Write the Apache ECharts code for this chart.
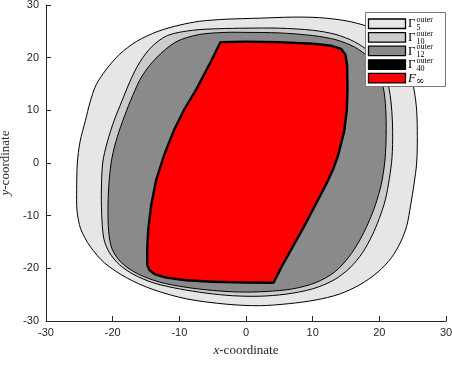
<!DOCTYPE html>
<html>
<head>
<meta charset="utf-8">
<script src="https://cdn.jsdelivr.net/npm/echarts@6/dist/echarts.min.js"></script>
<style>
html,body{margin:0;padding:0;background:#fff;}
#chart{width:452px;height:365px;}
</style>
</head>
<body>
<div id="chart"></div>
<script>
// ---- data ----
var xTicks = [-30, -20, -10, 0, 10, 20, 30];
var yTicks = [-30, -20, -10, 0, 10, 20, 30];

var gamma5 = [
  [-7,26.9],[-3,27.3],[2,27.5],[7,27.7],[11,27.6],[15,27],[18.5,25.8],[21.3,23.8],[23.3,21],[24.5,17.8],
  [25.2,14],[25.6,10],[25.7,5],[25.6,0],[25.2,-4],[24.7,-8],[24.1,-12],[23.2,-15],[21.8,-18],[19.8,-20.7],
  [17.1,-23.1],[14,-24.9],[10.5,-26],[6.5,-26.7],[2,-27.1],[-3,-26.8],[-8.9,-25.8],[-14,-24],[-17.9,-21.8],
  [-21.2,-19],[-23.4,-15.8],[-24.8,-12.5],[-25.35,-9],[-25.4,-5],[-25.3,0],[-24.9,4],[-24.1,8],[-23.4,11.5],
  [-22.5,14.8],[-21,17.7],[-19,20.6],[-16.4,23.1],[-13.2,25],[-9.9,26.2]
];
var gamma10 = [
  [-8,25.2],[-4,25.5],[0,25.6],[5,25.6],[10,25.2],[13.5,24.4],[16.3,23],[18.6,21],[20.3,18.3],[21.3,15],
  [21.8,11],[22,6],[21.9,1],[21.5,-3],[20.9,-7],[20,-10.5],[18.9,-13.8],[17.5,-17],[15.6,-19.9],[13.2,-22.2],
  [10,-23.9],[6,-24.9],[2,-25.3],[-2,-25.2],[-6,-24.7],[-10,-23.9],[-13.8,-22.8],[-16.8,-21.2],[-19,-19.3],
  [-20.5,-17],[-21.3,-14.5],[-21.6,-11],[-21.7,-6],[-21.5,0],[-20.8,4],[-19.8,8],[-18.6,11.8],[-17.4,15.5],
  [-16,19],[-14.2,22],[-11.8,24.2]
];
var gamma12 = [
  [-7,24.4],[-3,24.8],[0,24.8],[5,24.7],[10,24.2],[13.5,23.4],[16.3,22],[18.5,19.9],[19.9,17],[20.7,13.6],
  [21,9],[21,4],[20.8,0],[20.3,-4],[19.4,-8],[18.3,-11.5],[17,-14.8],[15.4,-17.9],[13.3,-20.7],[10.5,-22.7],
  [7,-23.9],[3,-24.4],[-1,-24.5],[-5,-24.2],[-9,-23.6],[-13,-22.6],[-16.3,-21],[-18.7,-18.9],[-20.1,-16.3],
  [-20.6,-13],[-20.7,-8],[-20.5,-3],[-20.1,1],[-19.3,5],[-18.2,9],[-17,12.8],[-15.6,16.5],[-13.5,19.9],
  [-10.5,23]
];
var gamma40 = [
  [-3.75,22.8],[0,22.9],[5,22.8],[10,22.5],[12.8,22.1],[14.2,21.5],[14.8,20.5],[15.05,18.5],[15.1,14],
  [15,10],[14.6,6],[14.2,4],[13.7,1.5],[13,-1],[12.1,-3.5],[11,-6.2],[9.8,-9.1],[8.55,-12.1],[6.6,-16.5],
  [5.2,-19.7],[4.05,-22.6],
  [0,-22.55],[-5,-22.4],[-9,-22.1],[-12,-21.6],[-13.6,-21],[-14.4,-20.2],[-14.7,-19.3],[-14.7,-16.5],
  [-14.55,-12.7],[-14.1,-8],[-13.35,-3.2],[-12.15,1.5],[-10.65,6.3],[-9.15,10.1],[-7.35,13.9],[-5.4,18.6]
];
var fInf = [
  [-3.75,22.8],[0,22.9],[5,22.8],[10,22.5],[12.8,22.1],[14.2,21.5],[14.8,20.5],[15.05,18.5],[15.1,14],
  [15,10],[14.6,6],[14.2,4],[13.7,1.5],[13,-1],[12.1,-3.5],[11,-6.2],[9.8,-9.1],[8.55,-12.1],[6.6,-16.5],
  [5.2,-19.7],[4.05,-22.6],
  [0,-22.55],[-5,-22.4],[-9,-22.1],[-12,-21.6],[-13.6,-21],[-14.4,-20.2],[-14.7,-19.3],[-14.7,-16.5],
  [-14.55,-12.7],[-14.1,-8],[-13.35,-3.2],[-12.15,1.5],[-10.65,6.3],[-9.15,10.1],[-7.35,13.9],[-5.4,18.6]
];

var seriesNames = ['Γ5outer','Γ10outer','Γ12outer','Γ40outer','F∞'];
var seriesColors = ['#e6e6e6','#cccccc','#8a8a8a','#000000','#ff0000'];
var legendSubs = ['5','10','12','40'];

// ---- chart ----
function polySeries(name, pts, fill, lw, smooth) {
  return {
    type: 'custom',
    name: name,
    coordinateSystem: 'cartesian2d',
    encode: {x: 0, y: 1},
    data: pts,
    clip: true,
    silent: true,
    renderItem: function (params, api) {
      if (params.dataIndex !== 0) return null;
      var points = pts.map(function (p) { return api.coord(p); });
      return {
        type: 'polygon',
        shape: {points: points, smooth: smooth},
        style: {fill: fill, stroke: '#000', lineWidth: lw, lineJoin: 'round'}
      };
    }
  };
}

var axisCommon = {
  min: -30, max: 30, interval: 10,
  axisLine: {show: true, onZero: false, lineStyle: {color: '#262626', width: 1}},
  axisTick: {show: true, inside: true, length: 5, lineStyle: {color: '#262626'}},
  axisLabel: {color: '#262626', fontFamily: 'Liberation Sans, Arial, sans-serif', fontSize: 11},
  splitLine: {show: false}
};

var chart = echarts.init(document.getElementById('chart'), null, {renderer: 'canvas'});

var legendX = 365, legendY = 12, rowH = 13.6;
var graphics = [{
  type: 'rect', left: legendX, top: legendY, z: 100,
  shape: {x: 0, y: 0, width: 80, height: 74},
  style: {fill: '#fff', stroke: '#7a7a7a', lineWidth: 1}
}];
for (var i = 0; i < 5; i++) {
  var ry = legendY + 7 + i * rowH;
  graphics.push({
    type: 'rect', z: 101,
    shape: {x: legendX + 3.5, y: ry, width: 37, height: 9.5},
    style: {fill: seriesColors[i], stroke: '#000', lineWidth: 1.3}
  });
  if (i < 4) {
    graphics.push({type: 'text', z: 102, x: legendX + 43, y: ry + 5,
      style: {text: 'Γ', font: '13px "Liberation Serif", serif', fill: '#000', verticalAlign: 'middle', align: 'left'}});
    graphics.push({type: 'text', z: 102, x: legendX + 51.5, y: ry + 1.2,
      style: {text: 'outer', font: '8px "Liberation Serif", serif', fill: '#000', verticalAlign: 'middle', align: 'left'}});
    graphics.push({type: 'text', z: 102, x: legendX + 51.5, y: ry + 9,
      style: {text: legendSubs[i], font: '8px "Liberation Serif", serif', fill: '#000', verticalAlign: 'middle', align: 'left'}});
  } else {
    graphics.push({type: 'text', z: 102, x: legendX + 43, y: ry + 5,
      style: {text: 'F', font: 'italic 13px "Liberation Serif", serif', fill: '#000', verticalAlign: 'middle', align: 'left'}});
    graphics.push({type: 'text', z: 102, x: legendX + 51, y: ry + 8,
      style: {text: '∞', font: '10px "DejaVu Serif", serif', fill: '#000', verticalAlign: 'middle', align: 'left'}});
  }
}

chart.setOption({
  animation: false,
  backgroundColor: '#fff',
  grid: {left: 46, right: 6, top: 5, bottom: 44, containLabel: false, outerBoundsMode: 'none'},
  xAxis: Object.assign({}, axisCommon, {
    type: 'value', position: 'bottom',
    axisLabel: Object.assign({}, axisCommon.axisLabel, {margin: 6}),
    name: '{i|x}-coordinate', nameLocation: 'middle', nameGap: 23,
    nameTextStyle: {fontFamily: '"Liberation Serif", serif', fontSize: 13, color: '#262626',
      rich: {i: {fontStyle: 'italic', fontFamily: '"Liberation Serif", serif', fontSize: 13, color: '#262626'}}}
  }),
  yAxis: Object.assign({}, axisCommon, {
    type: 'value', position: 'left',
    axisLabel: Object.assign({}, axisCommon.axisLabel, {margin: 7}),
    name: '{i|y}-coordinate', nameLocation: 'middle', nameGap: 29,
    nameTextStyle: {fontFamily: '"Liberation Serif", serif', fontSize: 13, color: '#262626',
      rich: {i: {fontStyle: 'italic', fontFamily: '"Liberation Serif", serif', fontSize: 13, color: '#262626'}}}
  }),
  series: [
    polySeries(seriesNames[0], gamma5, seriesColors[0], 1, 0.3),
    polySeries(seriesNames[1], gamma10, seriesColors[1], 1, 0.3),
    polySeries(seriesNames[2], gamma12, seriesColors[2], 1, 0.3),
    polySeries(seriesNames[3], gamma40, seriesColors[3], 4, 0),
    polySeries(seriesNames[4], fInf, seriesColors[4], 0.8, 0)
  ],
  graphic: graphics
});
</script>
</body>
</html>
